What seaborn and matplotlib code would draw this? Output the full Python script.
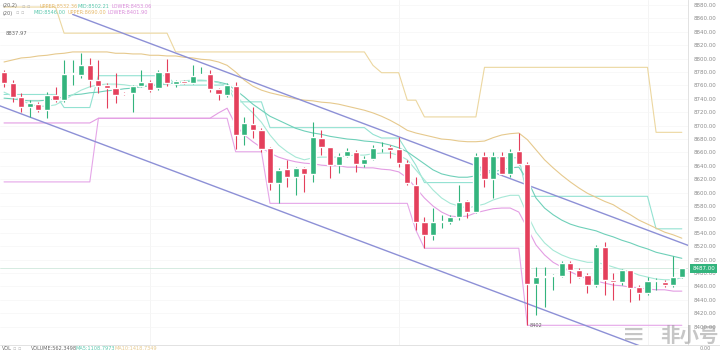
import matplotlib
matplotlib.use('Agg')
import matplotlib.pyplot as plt
import matplotlib.transforms as mtransforms
import pandas as pd
import seaborn as sns

# K线数据，80根
opens = [8780, 8764, 8743, 8728, 8732, 8723, 8746, 8738, 8777, 8776,
         8790, 8768, 8761, 8756, 8748, 8749, 8759, 8765, 8756, 8780,
         8762, 8767, 8764, 8776, 8777, 8755, 8746, 8759, 8686, 8702,
         8693, 8667, 8614, 8635, 8623, 8637, 8628, 8681, 8668, 8641,
         8655, 8661, 8643, 8650, 8667, 8668, 8665, 8644, 8611, 8556,
         8537, 8556, 8556, 8564, 8587, 8571, 8655, 8621, 8655, 8628,
         8662, 8643, 8464, 8474, 8475, 8476, 8495, 8484, 8477, 8462,
         8519, 8470, 8467, 8485, 8459, 8450, 8468, 8467, 8462, 8474]
closes = [8764, 8743, 8728, 8734, 8723, 8746, 8738, 8777, 8778, 8790,
          8768, 8759, 8756, 8746, 8747, 8759, 8765, 8753, 8780, 8764,
          8767, 8764, 8774, 8777, 8755, 8747, 8761, 8686, 8704, 8693,
          8665, 8614, 8634, 8623, 8637, 8628, 8683, 8668, 8641, 8655,
          8662, 8643, 8650, 8667, 8668, 8664, 8644, 8614, 8556, 8537,
          8556, 8557, 8564, 8586, 8571, 8655, 8620, 8655, 8628, 8661,
          8643, 8464, 8474, 8475, 8476, 8495, 8485, 8474, 8462, 8519,
          8470, 8467, 8485, 8458, 8450, 8468, 8469, 8462, 8474, 8487]
highs = [8783, 8768, 8749, 8738, 8735, 8750, 8758, 8798, 8798, 8808,
         8801, 8798, 8764, 8779, 8750, 8761, 8783, 8768, 8783, 8799,
         8768, 8768, 8790, 8787, 8783, 8756, 8764, 8765, 8713, 8728,
         8696, 8668, 8637, 8649, 8638, 8638, 8705, 8693, 8668, 8659,
         8667, 8664, 8655, 8671, 8676, 8671, 8683, 8649, 8623, 8564,
         8577, 8567, 8567, 8611, 8589, 8659, 8661, 8661, 8661, 8665,
         8689, 8646, 8489, 8489, 8478, 8498, 8498, 8488, 8480, 8522,
         8526, 8480, 8486, 8485, 8462, 8474, 8473, 8470, 8505, 8488]
lows = [8758, 8735, 8720, 8713, 8720, 8711, 8735, 8735, 8761, 8771,
        8758, 8749, 8726, 8734, 8745, 8720, 8758, 8750, 8753, 8759,
        8758, 8762, 8762, 8775, 8750, 8738, 8743, 8665, 8671, 8681,
        8661, 8604, 8585, 8608, 8596, 8601, 8616, 8656, 8622, 8629,
        8653, 8631, 8638, 8649, 8661, 8652, 8638, 8611, 8544, 8517,
        8529, 8547, 8553, 8559, 8562, 8569, 8608, 8592, 8626, 8623,
        8641, 8402, 8417, 8429, 8455, 8474, 8465, 8472, 8450, 8459,
        8447, 8440, 8462, 8437, 8440, 8447, 8455, 8459, 8459, 8472]

# BOLL(20,2)
boll_upper = [8795, 8798, 8801, 8802, 8804, 8805, 8807, 8808, 8810, 8810,
              8810, 8810, 8810, 8808, 8808, 8807, 8807, 8805, 8805, 8804,
              8804, 8802, 8801, 8799, 8798, 8795, 8790, 8780, 8768, 8759,
              8753, 8749, 8746, 8743, 8740, 8738, 8737, 8735, 8734, 8732,
              8729, 8726, 8723, 8719, 8714, 8708, 8701, 8693, 8689, 8686,
              8683, 8680, 8679, 8677, 8676, 8676, 8677, 8682, 8686, 8688,
              8689, 8679, 8664, 8649, 8637, 8626, 8616, 8607, 8599, 8593,
              8587, 8582, 8574, 8567, 8559, 8553, 8547, 8541, 8537, 8532]
boll_mid = [8741, 8740, 8738, 8737, 8737, 8738, 8740, 8743, 8746, 8747,
            8749, 8750, 8752, 8753, 8755, 8756, 8758, 8759, 8761, 8762,
            8764, 8765, 8767, 8767, 8767, 8765, 8762, 8753, 8743, 8732,
            8723, 8714, 8708, 8702, 8696, 8692, 8689, 8687, 8684, 8682,
            8680, 8679, 8677, 8676, 8674, 8671, 8667, 8661, 8652, 8643,
            8634, 8628, 8625, 8623, 8623, 8625, 8628, 8631, 8634, 8637,
            8638, 8619, 8592, 8577, 8567, 8559, 8553, 8549, 8546, 8543,
            8538, 8534, 8529, 8525, 8520, 8516, 8511, 8508, 8505, 8502]
boll_lower = [8704, 8704, 8704, 8704, 8704, 8704, 8704, 8704, 8704, 8704,
              8704, 8711, 8711, 8711, 8711, 8711, 8711, 8711, 8711, 8711,
              8711, 8711, 8711, 8711, 8711, 8719, 8726, 8701, 8686, 8676,
              8667, 8659, 8653, 8649, 8646, 8644, 8643, 8641, 8640, 8640,
              8638, 8638, 8637, 8637, 8635, 8634, 8631, 8622, 8607, 8592,
              8580, 8571, 8565, 8564, 8565, 8570, 8573, 8576, 8577, 8577,
              8571, 8547, 8522, 8507, 8496, 8489, 8482, 8476, 8471, 8468,
              8465, 8462, 8461, 8459, 8458, 8456, 8455, 8455, 8453, 8453]
ma_fast = [8750, 8744, 8738, 8732, 8729, 8729, 8731, 8738, 8746, 8753,
           8758, 8761, 8762, 8762, 8761, 8759, 8759, 8761, 8762, 8764,
           8765, 8767, 8768, 8768, 8767, 8764, 8759, 8746, 8731, 8719,
           8705, 8686, 8671, 8661, 8653, 8649, 8652, 8653, 8653, 8653,
           8655, 8656, 8656, 8658, 8659, 8659, 8656, 8649, 8634, 8619,
           8604, 8592, 8584, 8580, 8577, 8580, 8583, 8589, 8593, 8596,
           8596, 8567, 8541, 8525, 8514, 8507, 8502, 8499, 8496, 8496,
           8493, 8489, 8485, 8482, 8477, 8474, 8471, 8470, 8470, 8473]

# 唐奇安通道(20)
dc_upper = ([8877] * 7 + [8838] * 13 + [8810] * 23 + [8790] + [8779] * 3
            + [8738] * 2 + [8713] * 7 + [8787] * 20 + [8690] * 4)
dc_lower = ([8616] * 11 + [8711] * 16 + [8661] * 4 + [8584] * 17 + [8544]
            + [8517] * 12 + [8402] * 19)
dc_mid = ([8746.5] * 7 + [8727] * 4 + [8774.5] * 9 + [8760.5] * 7 + [8735.5] * 4
          + [8697] * 12 + [8687] + [8681.5] * 3 + [8661] + [8641] + [8615] * 7
          + [8652] * 5 + [8594.5] * 15 + [8546] * 4)

# 画的下降通道两条线
chan_up_x = [8, 80]
chan_up_y = [8866, 8520]
chan_dn_x = [-1, 75]
chan_dn_y = [8732, 8367]

y_ticks = list(range(8400, 8881, 20))
last_price = 8487

df = pd.DataFrame({'open': opens, 'close': closes, 'high': highs, 'low': lows,
                   'boll_upper': boll_upper, 'boll_mid': boll_mid,
                   'boll_lower': boll_lower, 'ma_fast': ma_fast,
                   'dc_upper': dc_upper, 'dc_mid': dc_mid, 'dc_lower': dc_lower})
df['idx'] = range(len(df))

sns.set_theme(style='white')
plt.rcParams['font.family'] = ['DejaVu Sans', 'Noto Sans CJK SC']

W, H = 720, 351
fig = plt.figure(figsize=(W / 100, H / 100), dpi=100)
ax = fig.add_axes([0, 6 / H, 688 / W, 345 / H])

RED = '#e4405c'
GREEN = '#33b47d'

# 指标线
lines = [
    ('dc_upper', '#ecd7a0', 0.8),
    ('dc_mid', '#93e2d2', 0.8),
    ('dc_lower', '#e5a6e8', 0.8),
    ('boll_upper', '#e6c98d', 0.8),
    ('boll_mid', '#6fd0b9', 0.8),
    ('boll_lower', '#e39de3', 0.8),
    ('ma_fast', '#a6e8d6', 0.8),
]
for col, color, lw in lines:
    sns.lineplot(data=df, x='idx', y=col, ax=ax, color=color, lw=lw)

sns.lineplot(x=chan_up_x, y=chan_up_y, ax=ax, color='#8d90d6', lw=1.0)
sns.lineplot(x=chan_dn_x, y=chan_dn_y, ax=ax, color='#8d90d6', lw=1.0)

ax.axhline(last_price, color='#cfe8dc', lw=0.6, zorder=1)

# K线
colors = [GREEN if c >= o else RED for o, c in zip(df['open'], df['close'])]
ax.vlines(df['idx'], df['low'], df['high'], colors=colors, lw=0.8, zorder=3)
body_bottom = df[['open', 'close']].min(axis=1)
body_h = (df['close'] - df['open']).abs().clip(lower=1.4)
ax.bar(df['idx'], body_h, bottom=body_bottom, width=0.72, color=colors, zorder=4)

ax.set_xlim(-0.47, 79.72)
ax.set_ylim(8372.6, 8887.5)
ax.set_xlabel('')
ax.set_ylabel('')
ax.set_xticks([])
for v in [17, 46, 75]:
    ax.axvline(v, color='#f2f2f2', lw=0.6, zorder=0)
ax.yaxis.tick_right()
ax.set_yticks(y_ticks)
ax.set_yticklabels([f'{v:.2f}' for v in y_ticks])
ax.tick_params(axis='y', labelsize=4, colors='#8c8c8c', length=0, pad=4)
ax.grid(axis='y', color='#f6f6f6', lw=0.5)
for s in ['top', 'left', 'bottom']:
    ax.spines[s].set_visible(False)
ax.spines['right'].set_color('#dddddd')
ax.spines['right'].set_linewidth(0.6)

# 最新价标签
trans = mtransforms.blended_transform_factory(ax.transAxes, ax.transData)
ax.text(1.006, last_price, f'{last_price:.2f}', transform=trans, fontsize=4,
        color='white', va='center', ha='left', clip_on=False, zorder=10,
        bbox=dict(boxstyle='square,pad=0.35', fc=GREEN, ec='none'))

# 最高/最低标注
ax.text(0.2, 8838, '8837.97', fontsize=3.8, color='#666666', va='center')
ax.text(61.3, 8402, '8402', fontsize=3.6, color='#666666', va='center')


def ftext(x, y, s, color, size=3.6, **kw):
    fig.text(x / W, 1 - y / H, s, color=color, fontsize=size, va='center', ha='left', **kw)


# 顶部指标说明（第一行被截掉一半）
ftext(22, -1, 'MA5:8473.17', '#6fd0b9')
ftext(58, -1, 'MA10:8470.16', '#e6c98d')
ftext(3, 6, '(20,2)', '#666666')
ftext(22, 6, '▫ ▫', '#bbbbbb')
ftext(40, 6, 'UPPER:8532.36', '#e6b96a')
ftext(78, 6, 'MID:8502.21', '#5cc8ae')
ftext(112, 6, 'LOWER:8453.06', '#d98ad9')
ftext(3, 13, '(20)', '#666666')
ftext(16, 13, '▫ ▫', '#bbbbbb')
ftext(34, 13, 'MID:8546.00', '#5cc8ae')
ftext(68, 13, 'UPPER:8690.00', '#e6b96a')
ftext(108, 13, 'LOWER:8401.90', '#d98ad9')

# 底部成交量栏
fig.add_artist(plt.Line2D([0, 1], [1 - 345 / H, 1 - 345 / H], color='#dddddd', lw=0.6))
ftext(2, 348, 'VOL', '#666666')
ftext(13, 348, '▫ ▫', '#bbbbbb')
ftext(31, 348, 'VOLUME:562.3498', '#666666')
ftext(75, 348, 'MA5:1108.7973', '#5cc8ae')
ftext(115, 348, 'MA10:1418.7349', '#e6c98d')
ftext(700, 349, '0.00', '#8c8c8c', size=3.6)

# 水印
ftext(622, 335, '≡', '#a0a0a0', size=20, alpha=0.6)
ftext(660, 336, '非小号', '#a0a0a0', size=14, alpha=0.6,
      family=['Noto Sans CJK SC', 'DejaVu Sans'], fontweight='bold')

fig.savefig('out.png', dpi=100)
